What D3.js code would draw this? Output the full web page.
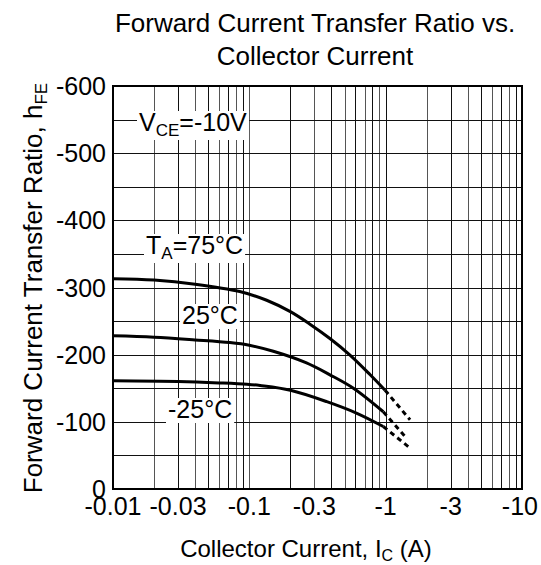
<!DOCTYPE html>
<html>
<head>
<meta charset="utf-8">
<script src="https://cdn.jsdelivr.net/npm/d3@7"></script>
<style>
  body { margin: 0; background: #fff; }
  text { font-family: "Liberation Sans", Arial, sans-serif; fill: #000; }
</style>
</head>
<body>
<div id="chart"></div>
<script>
// data (PNP part, so everything is negative)
const xTicks = [-0.01, -0.03, -0.1, -0.3, -1, -3, -10];
const xTickLabels = ["-0.01", "-0.03", "-0.1", "-0.3", "-1", "-3", "-10"];
const yTicks = [0, -100, -200, -300, -400, -500, -600];

const ic75 = [-0.01, -0.02, -0.04, -0.085, -0.134, -0.2, -0.28, -0.39, -0.55, -0.77, -0.99];
const hfe75 = [-313, -311, -305, -294, -281, -264, -245, -224, -199, -170, -147];
const ic75dash = [-0.99, -1.51];
const hfe75dash = [-147, -103];

const ic25 = [-0.01, -0.02, -0.04, -0.072, -0.1, -0.15, -0.26, -0.39, -0.58, -0.96];
const hfe25 = [-228, -226, -222, -218, -214, -205, -188, -170, -150, -115];
const ic25dash = [-0.96, -1.39];
const hfe25dash = [-115, -78];

const icm25 = [-0.01, -0.03, -0.06, -0.096, -0.12, -0.2, -0.37, -0.61, -0.96];
const hfem25 = [-161, -160, -158, -156, -154, -147, -130, -113, -93];
const icm25dash = [-0.96, -1.51];
const hfem25dash = [-93, -61];

const width = 541, height = 565;
const margin = {top: 86, right: 19, bottom: 76, left: 113};

const svg = d3.select("#chart").append("svg")
    .attr("width", width)
    .attr("height", height);

const x = d3.scaleLog().domain([-0.01, -10]).range([margin.left, width - margin.right]);
const y = d3.scaleLinear().domain([0, -600]).range([height - margin.bottom, margin.top]);

// grid
let minor = [];
[-0.01, -0.1, -1].forEach(d => {
  for (let k = 1; k <= 9; k++) minor.push(d * k);
});
minor.push(-10);

const grid = svg.append("g").attr("shape-rendering", "crispEdges");
grid.selectAll("line.v")
  .data(minor)
  .join("line")
    .attr("class", "v")
    .attr("x1", d => Math.round(x(d)) + 0.5)
    .attr("x2", d => Math.round(x(d)) + 0.5)
    .attr("y1", y(0))
    .attr("y2", y(-600))
    .attr("stroke", (d, i) => i % 2 ? "#555" : "#111")
    .attr("stroke-width", 1);

grid.selectAll("line.h")
  .data(d3.range(0, -601, -50))
  .join("line")
    .attr("class", "h")
    .attr("x1", x(-0.01))
    .attr("x2", x(-10))
    .attr("y1", d => Math.round(y(d)) + 0.5)
    .attr("y2", d => Math.round(y(d)) + 0.5)
    .attr("stroke", "#111")
    .attr("stroke-width", 1);

// frame
svg.append("rect")
    .attr("x", x(-0.01))
    .attr("y", y(-600))
    .attr("width", x(-10) - x(-0.01))
    .attr("height", y(0) - y(-600))
    .attr("fill", "none")
    .attr("stroke", "#000")
    .attr("stroke-width", 2);

// labels inside the plot, white box behind each
function boxLabel(px, py, parts, size) {
  const g = svg.append("g");
  const t = g.append("text")
      .attr("x", px)
      .attr("y", py)
      .attr("font-size", size);
  parts.forEach(p => {
    const s = t.append("tspan").text(p.t);
    if (p.sub) s.attr("font-size", size * 0.68).attr("dy", 5);
    else if (p.after) s.attr("dy", -5);
  });
  const b = t.node().getBBox();
  g.insert("rect", "text")
      .attr("x", b.x - 2)
      .attr("y", b.y + 3)
      .attr("width", b.width + 4)
      .attr("height", b.height - 3)
      .attr("fill", "#fff");
}

boxLabel(139, 131, [{t: "V"}, {t: "CE", sub: true}, {t: "=-10V", after: true}], 25);
boxLabel(146, 254, [{t: "T"}, {t: "A", sub: true}, {t: "=75°C", after: true}], 25);

// curves
const line = d3.line()
    .x(d => x(d[0]))
    .y(d => y(d[1]))
    .curve(d3.curveCatmullRom.alpha(0.5));

const curves = [
  [ic75, hfe75, ic75dash, hfe75dash],
  [ic25, hfe25, ic25dash, hfe25dash],
  [icm25, hfem25, icm25dash, hfem25dash]
];

const gc = svg.append("g").attr("fill", "none").attr("stroke", "#000");
curves.forEach(c => {
  gc.append("path")
      .attr("d", line(d3.zip(c[0], c[1])))
      .attr("stroke-width", 3);
  gc.append("path")
      .attr("d", line(d3.zip(c[2], c[3])))
      .attr("stroke-width", 3)
      .attr("stroke-dasharray", "5,4");
});

boxLabel(182, 324, [{t: "25°C"}], 25);
boxLabel(168, 418, [{t: "-25°C"}], 25);

// axes labels
svg.append("g")
  .selectAll("text")
  .data(yTicks)
  .join("text")
    .attr("x", 106)
    .attr("y", d => y(d) + 9)
    .attr("text-anchor", "end")
    .attr("font-size", 25)
    .text(d => d === 0 ? "0" : d);

svg.append("g")
  .selectAll("text")
  .data(xTicks)
  .join("text")
    .attr("x", (d, i) => i === xTicks.length - 1 ? 538 : x(d))
    .attr("y", 515)
    .attr("text-anchor", (d, i) => i === xTicks.length - 1 ? "end" : "middle")
    .attr("font-size", 25)
    .text((d, i) => xTickLabels[i]);

// titles
const title = svg.append("text")
    .attr("text-anchor", "middle")
    .attr("font-size", 26);
title.append("tspan").attr("x", 315).attr("y", 32).text("Forward Current Transfer Ratio vs.");
title.append("tspan").attr("x", 315).attr("y", 65).text("Collector Current");

const xt = svg.append("text")
    .attr("x", 306)
    .attr("y", 557)
    .attr("text-anchor", "middle")
    .attr("font-size", 24);
xt.append("tspan").text("Collector Current, I");
xt.append("tspan").attr("font-size", 16).attr("dy", 4).text("C");
xt.append("tspan").attr("dy", -4).text(" (A)");

const yt = svg.append("text")
    .attr("transform", "translate(42,288) rotate(-90)")
    .attr("text-anchor", "middle")
    .attr("font-size", 26);
yt.append("tspan").text("Forward Current Transfer Ratio, h");
yt.append("tspan").attr("font-size", 17).attr("dy", 5).text("FE");
</script>
</body>
</html>
